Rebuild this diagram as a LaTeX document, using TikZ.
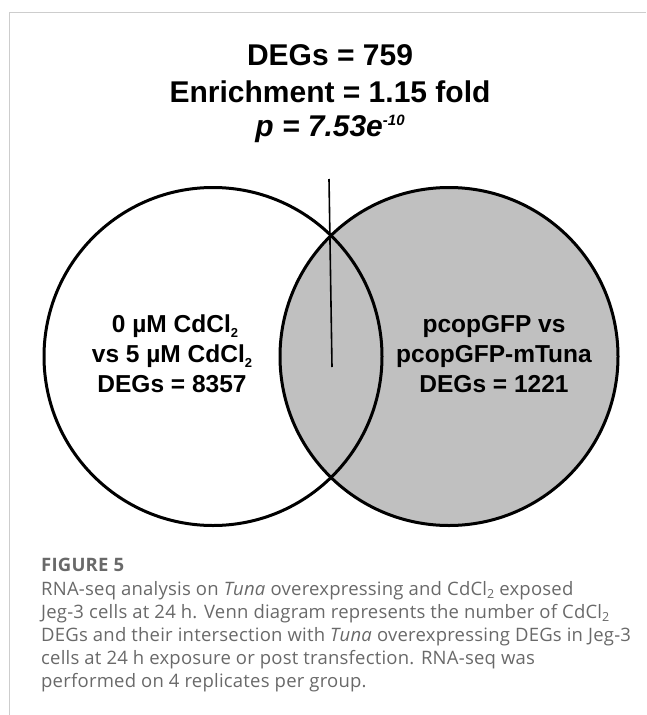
\documentclass[tikz,border=0pt]{standalone}
\usepackage{fontspec}
\usepackage{xcolor}
\usepackage{tikz}
\newfontfamily\vennfont{Liberation Sans}
\newfontfamily\capfont[LetterSpace=1.2]{Open Sans}
\definecolor{setgray}{RGB}{192,192,192}
\definecolor{capgray}{RGB}{105,105,105}
\definecolor{framegray}{RGB}{205,205,205}
\newcommand{\vsub}{\raisebox{-5pt}{\fontsize{13}{13}\selectfont 2}}
\newcommand{\csub}{\raisebox{-3pt}{\fontsize{12.5}{12.5}\selectfont 2}}

\begin{document}
\begin{tikzpicture}[x=1pt,y=-1pt,
      headline/.style={font=\vennfont\bfseries\fontsize{30}{36}\selectfont,anchor=base,inner sep=0},
      set/.style={circle,draw=black,line width=3pt,minimum size=338pt,inner sep=0},
      setlabel/.style={font=\vennfont\bfseries\fontsize{24.5}{30}\selectfont,anchor=base,inner sep=0},
      captext/.style={font=\capfont\fontsize{18.5}{23}\selectfont,text=capgray,anchor=base west,inner sep=0}
]
      \useasboundingbox (0,0) rectangle (646,715);
      % frame
      \draw[framegray,line width=1pt] (9.5,715) -- (9.5,12) -- (646,12);

      % statistics
      \node[headline] (degs) at (330,65) {DEGs = 759};
      \node[headline] (enrich) at (330,102.5) {Enrichment = 1.15 fold};
      \node[headline] (pval) at (330,136) {\itshape p = 7.53e\raisebox{11pt}{\fontsize{15}{15}\selectfont -10}};

      % sets
      \node[set,fill=setgray] (tuna) at (449,356.5) {};
      \node[set] (cd) at (213,356.5) {};

      \coordinate (ptop) at (329,179);
      \coordinate (pbot) at (332,367);
      \draw[line width=1.6pt] (ptop) -- (pbot);

      \node[setlabel] (cd1) at (175,332) {0 µM CdCl\vsub};
      \node[setlabel] (cd2) at (172,362) {vs 5 µM CdCl\vsub};
      \node[setlabel] (cd3) at (172,392) {DEGs = 8357};
      \node[setlabel] (tuna1) at (494,332) {pcopGFP vs};
      \node[setlabel] (tuna2) at (494,362) {pcopGFP-mTuna};
      \node[setlabel] (tuna3) at (494,392) {DEGs = 1221};

      % caption
      \node[captext,font=\capfont\bfseries\fontsize{18.5}{23}\selectfont] (fig) at (41,571) {FIGURE 5};
      \node[captext] (cap1) at (41,595) {RNA-seq analysis on \textit{Tuna} overexpressing and CdCl\csub{} exposed};
      \node[captext] (cap2) at (41,618) {Jeg-3 cells at 24 h. Venn diagram represents the number of CdCl\csub};
      \node[captext] (cap3) at (41,641) {DEGs and their intersection with \textit{Tuna} overexpressing DEGs in Jeg-3};
      \node[captext] (cap4) at (41,664) {cells at 24 h exposure or post transfection. RNA-seq was};
      \node[captext] (cap5) at (41,687) {performed on 4 replicates per group.};
\end{tikzpicture}
\end{document}
